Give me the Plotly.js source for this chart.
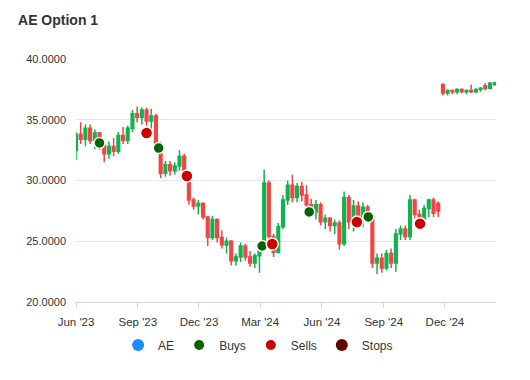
<!DOCTYPE html>
<html><head><meta charset="utf-8">
<script src="https://cdn.plot.ly/plotly-3.0.1.min.js"></script>
<style>html,body{margin:0;padding:0;background:#fff}#chart{width:530px;height:380px}</style>
</head><body><div id="chart"></div>
<script>
// Weekly candles (lower segment then upper segment)
const dates = [
 '2023-06-01','2023-06-08','2023-06-15','2023-06-22','2023-06-29','2023-07-06','2023-07-13','2023-07-20','2023-07-27',
 '2023-08-03','2023-08-10','2023-08-17','2023-08-24','2023-08-31','2023-09-07','2023-09-14','2023-09-21','2023-09-28',
 '2023-10-05','2023-10-12','2023-10-19','2023-10-26','2023-11-02','2023-11-09','2023-11-16','2023-11-23','2023-11-30',
 '2023-12-07','2023-12-14','2023-12-21','2023-12-28','2024-01-04','2024-01-11','2024-01-18','2024-01-25','2024-02-01',
 '2024-02-08','2024-02-15','2024-02-22','2024-02-29','2024-03-07','2024-03-14','2024-03-21','2024-03-28','2024-04-04',
 '2024-04-11','2024-04-18','2024-04-25','2024-05-02','2024-05-09','2024-05-16','2024-05-23','2024-05-30','2024-06-06',
 '2024-06-13','2024-06-20','2024-06-27','2024-07-04','2024-07-11','2024-07-18','2024-07-25','2024-08-01','2024-08-08',
 '2024-08-15','2024-08-22','2024-08-29','2024-09-05','2024-09-12','2024-09-19','2024-09-26','2024-10-03','2024-10-10',
 '2024-10-17','2024-10-24','2024-10-31','2024-11-07','2024-11-14','2024-11-21',
 '2024-11-28','2024-12-05','2024-12-12','2024-12-19','2024-12-26','2025-01-02','2025-01-09','2025-01-16','2025-01-23',
 '2025-01-30','2025-02-06','2025-02-13'
];
const openP = [
 32.5,33.8,33.4,34.3,33.3,33.9,32.9,32.2,32.8,32.4,33.7,33.3,34.3,35.5,35.2,35.8,34.9,35.3,
 33.0,30.6,31.3,30.8,31.2,32.0,30.4,28.4,27.9,28.1,27.0,25.3,26.8,25.3,24.7,25.0,23.4,23.7,
 24.6,23.7,23.2,23.8,24.5,29.8,25.4,24.1,26.2,28.4,29.6,28.6,29.5,28.8,28.0,27.4,28.0,26.6,
 26.9,26.3,26.5,24.8,28.6,26.6,27.9,26.8,27.8,27.1,23.2,23.6,22.8,24.0,23.2,25.6,26.0,25.4,
 28.4,27.2,26.8,27.7,28.4,28.1,
 37.9,37.2,37.4,37.3,37.5,37.3,37.4,37.3,37.5,37.8,37.6,37.9
];
const highP = [
 34.0,34.8,34.6,34.6,34.2,34.0,33.4,33.2,33.5,34.0,34.4,34.5,35.8,36.1,36.0,36.0,35.9,35.5,
 33.2,31.6,31.6,31.5,32.5,32.2,30.6,28.6,28.4,28.2,27.1,27.1,26.9,25.9,25.3,25.1,24.0,24.9,
 24.8,24.2,24.0,24.8,30.9,30.0,25.6,26.5,28.8,30.0,30.5,29.8,29.9,29.6,28.5,28.4,28.2,27.2,
 27.0,26.8,26.7,29.1,28.8,28.4,28.3,28.2,28.0,27.2,24.0,24.0,24.3,24.4,26.0,26.3,26.3,28.8,
 28.5,27.6,28.0,28.5,28.6,28.3,
 38.0,37.5,37.5,37.6,37.6,37.5,37.9,37.6,37.7,38.0,38.1,38.1
];
const lowP = [
 31.7,33.0,32.8,33.0,32.6,32.5,31.5,31.8,32.0,32.2,33.0,33.0,34.0,34.8,34.6,34.5,34.2,32.5,
 30.2,30.3,30.4,30.5,30.8,30.0,28.0,27.6,27.2,26.8,24.6,25.1,24.9,24.4,24.0,23.0,23.0,23.3,
 23.4,22.9,22.8,22.4,24.3,24.8,23.7,24.0,26.0,28.0,28.2,28.2,28.3,27.8,27.0,26.8,26.3,26.0,
 25.8,25.6,24.3,24.6,26.0,25.8,26.3,26.2,26.6,22.8,22.3,22.4,22.6,22.8,22.5,25.1,25.1,25.1,
 26.9,26.4,26.1,27.0,27.0,27.0,
 37.0,37.0,37.1,37.1,37.2,37.1,37.2,37.2,37.3,37.4,37.5,37.8
];
const closeP = [
 33.8,33.4,34.3,33.3,33.9,32.9,32.2,32.8,32.4,33.7,33.3,34.3,35.5,35.2,35.8,34.9,35.3,33.0,
 30.6,31.3,30.8,31.2,32.0,30.4,28.4,27.9,28.1,27.0,25.3,26.8,25.3,24.7,25.0,23.4,23.7,24.6,
 23.7,23.2,23.8,24.5,29.8,25.4,24.1,26.2,28.4,29.6,28.6,29.5,28.8,28.0,27.4,28.0,26.6,26.9,
 26.3,26.5,24.8,28.6,26.6,27.9,26.8,27.8,27.1,23.2,23.6,22.8,24.0,23.2,25.6,26.0,25.4,28.4,
 27.2,26.8,27.7,28.4,27.3,27.5,
 37.2,37.4,37.3,37.5,37.3,37.4,37.3,37.5,37.6,37.6,38.0,38.05
];
const buyDates = ['2023-07-06','2023-10-02','2024-03-04','2024-05-13','2024-08-09'];
const buyPrices = [33.09, 32.67, 24.61, 27.41, 27.0];
const sellDates = ['2023-09-14','2023-11-13','2024-03-19','2024-07-23','2024-10-25'];
const sellPrices = [33.91, 30.37, 24.77, 26.58, 26.45];
const stopDates = [];
const stopPrices = [];

const UP = '#10b34f', DOWN = '#f24545';
const traces = [
 {type:'candlestick', name:'AE', x:dates, open:openP, high:highP, low:lowP, close:closeP,
  increasing:{line:{color:UP, width:1.5}, fillcolor:UP},
  decreasing:{line:{color:DOWN, width:1.5}, fillcolor:DOWN},
  whiskerwidth:0, showlegend:false, hoverinfo:'skip'},
 {type:'scatter', mode:'markers', name:'AE', x:[null], y:[null], marker:{color:'#1a8cff', size:12}},
 {type:'scatter', mode:'markers', name:'Buys', x:buyDates, y:buyPrices,
  marker:{color:'#006400', size:11, line:{color:'#ffffff', width:1.5}}},
 {type:'scatter', mode:'markers', name:'Sells', x:sellDates, y:sellPrices,
  marker:{color:'#cc0000', size:12, line:{color:'#ffffff', width:1.5}}},
 {type:'scatter', mode:'markers', name:'Stops', x:stopDates.length?stopDates:[null], y:stopPrices.length?stopPrices:[null],
  marker:{color:'#660000', size:12}}
];
const layout = {
 width:530, height:380,
 margin:{l:76, r:34, t:59, b:78},
 paper_bgcolor:'#ffffff', plot_bgcolor:'#ffffff',
 font:{family:'"Liberation Sans", Arial, Helvetica, sans-serif', color:'#333333', size:12},
 title:{text:'AE Option 1', font:{size:14, weight:700, color:'#333333'},
  xref:'container', x:0.034, xanchor:'left', yref:'container', y:0.947, yanchor:'middle'},
 xaxis:{type:'date', range:['2023-06-01','2025-02-15'], tick0:'2023-06-01', dtick:'M3', tickformat:"%b '%y",
  showgrid:false, showline:true, linecolor:'#d6d6d6', linewidth:1, ticks:'outside', ticklen:5, tickcolor:'#d6d6d6',
  ticklabelstandoff:4,
  tickfont:{size:11.5, color:'#333333'}, rangeslider:{visible:false}, zeroline:false, fixedrange:true},
 yaxis:{range:[20,40], tick0:20, dtick:5, tickformat:'.4f', showgrid:true, gridcolor:'#e6e6e6', gridwidth:1,
  zeroline:false, showline:false, ticklabelstandoff:9, tickfont:{size:11, color:'#333333'}, fixedrange:true},
 showlegend:true,
 legend:{orientation:'h', xref:'container', x:0.487, xanchor:'center', yref:'container', y:0.092, yanchor:'middle',
  font:{size:12, color:'#333333'}, itemsizing:'constant', bgcolor:'rgba(0,0,0,0)'},
 boxgap:0.3, boxgroupgap:0.2,
 hovermode:false
};
Plotly.newPlot('chart', traces, layout, {displayModeBar:false, staticPlot:true});
</script>
</body></html>
